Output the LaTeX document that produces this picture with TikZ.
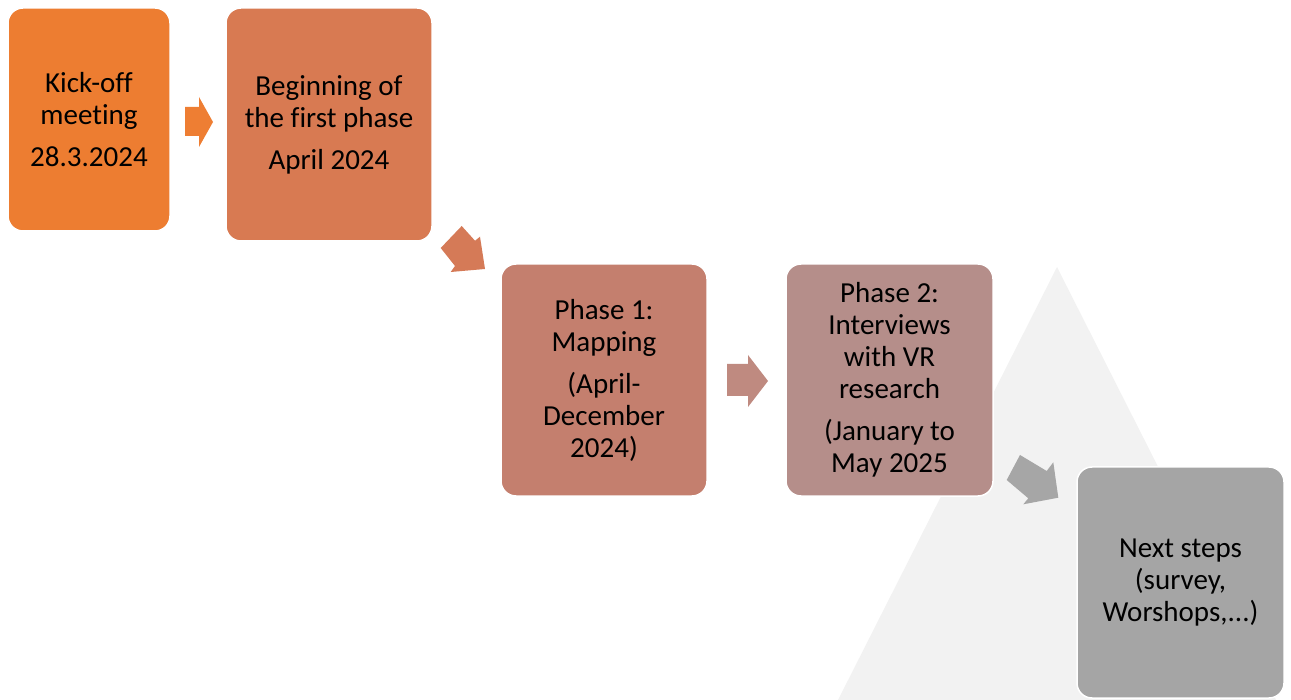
\documentclass[tikz,border=0pt]{standalone}
\usepackage{fontspec}
\setmainfont[Ligatures=NoCommon]{Carlito}
\definecolor{cA}{HTML}{ED7D31}
\definecolor{cB}{HTML}{D87A52}
\definecolor{cC}{HTML}{C47F6E}
\definecolor{cD}{HTML}{B58E8A}
\definecolor{cE}{HTML}{A5A5A5}
\definecolor{aA}{HTML}{EE7E33}
\definecolor{aB}{HTML}{D57A57}
\definecolor{aC}{HTML}{BF8A80}
\definecolor{aD}{HTML}{A6A6A6}
\definecolor{tri}{HTML}{F2F2F2}
\tikzset{
  stagebox/.style={rounded corners=15pt, draw=white, line width=1.5pt, inner sep=0pt,
    align=center, text=black, font=\fontsize{29}{32}\selectfont},
}
\begin{document}
\begin{tikzpicture}[x=1pt,y=-1pt]
\useasboundingbox (0,0) rectangle (1291,700);
% background triangle
\fill[tri] (1057,267) -- (838,700) -- (1276,700) -- cycle;
% stages
\node[stagebox, fill=cA, minimum width=162pt, minimum height=223pt] (kick) at (89,119.5)
  {Kick-off\\meeting\\[10pt]28.3.2024};
\node[stagebox, fill=cB, minimum width=206pt, minimum height=233pt] (begin) at (329,124.5)
  {Beginning of\\the first phase\\[10pt]April 2024};
\node[stagebox, fill=cC, minimum width=206pt, minimum height=232pt] (phase1) at (604,380)
  {Phase 1:\\Mapping\\[10pt](April-\\December\\2024)};
\node[stagebox, fill=cD, minimum width=207pt, minimum height=232pt] (phase2) at (889.5,380)
  {Phase 2:\\Interviews\\with VR\\research\\[10pt](January to\\May 2025};
\node[stagebox, fill=cE, minimum width=207pt, minimum height=231pt] (next) at (1180.5,582.5)
  {Next steps\\(survey,\\Worshops,...)};
% block arrows
\fill[aA] (185,107) -- (199,107) -- (199,97) -- (213,122) -- (199,147) -- (199,136) -- (185,136) -- cycle;
\fill[aB] (461.7,226) -- (475,240.7) -- (480,236.7) -- (485,269) -- (450.7,272) -- (455,266) -- (440.7,248) -- cycle;
\fill[aC] (727,364) -- (748,364) -- (748,355) -- (768,381) -- (748,407) -- (748,396) -- (727,396) -- cycle;
\fill[aD] (1020,455) -- (1046.7,471) -- (1053.3,462.3) -- (1058.3,497.7) -- (1023.3,504.3) -- (1028.3,498.3) -- (1006.7,480) -- cycle;
\end{tikzpicture}
\end{document}
